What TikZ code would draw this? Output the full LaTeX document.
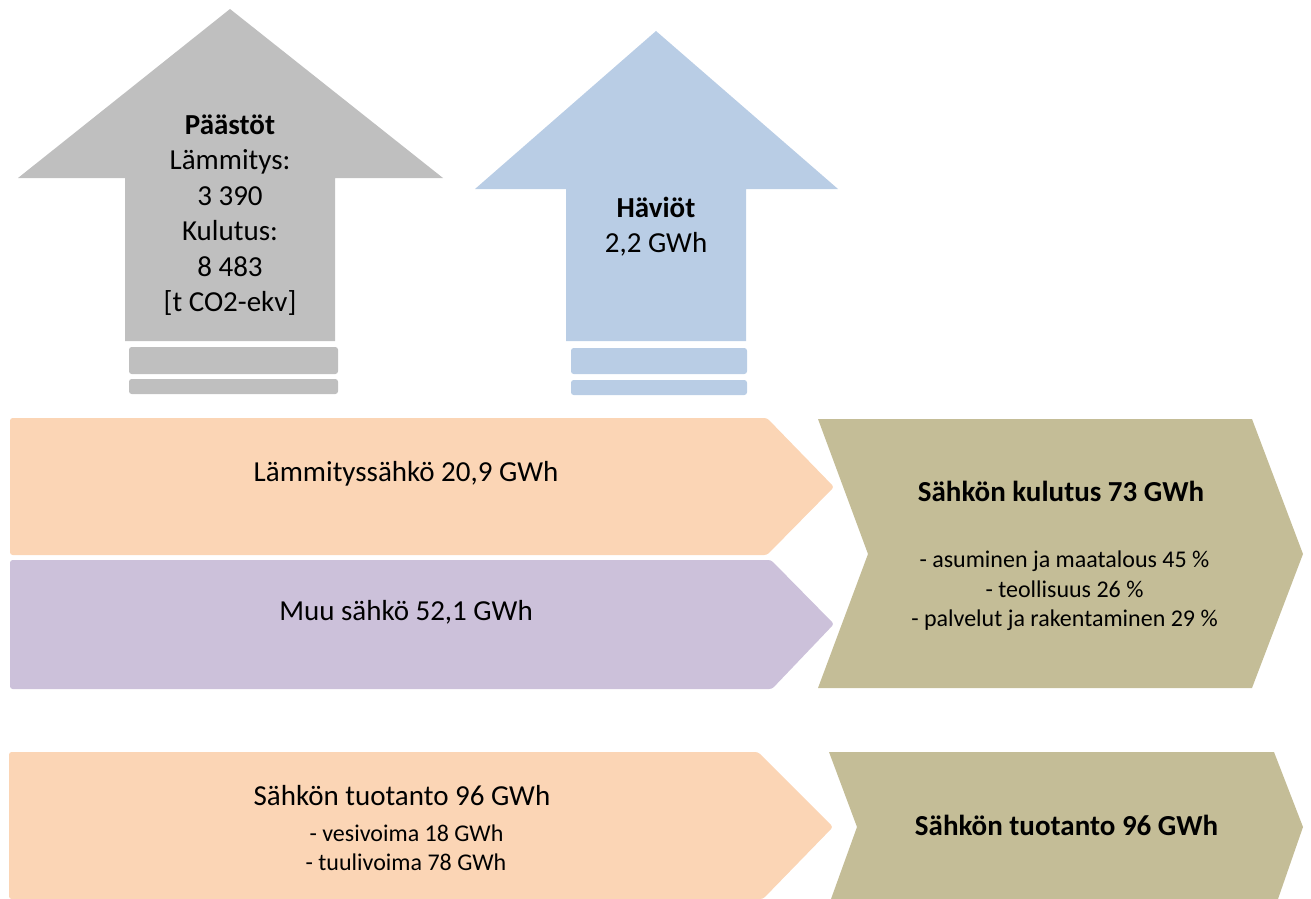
\documentclass[tikz,border=0pt]{standalone}
\usepackage{fontspec}
\setmainfont{Carlito}
\definecolor{grayA}{HTML}{BFBFBF}
\definecolor{blueA}{HTML}{B9CDE5}
\definecolor{peach}{HTML}{FBD5B5}
\definecolor{lilac}{HTML}{CCC1DA}
\definecolor{oliveA}{HTML}{C4BD97}
\begin{document}
\begin{tikzpicture}[x=0.75pt,y=-0.75pt,
  big/.style={font=\fontsize{21.75pt}{26pt}\selectfont, anchor=base, inner sep=0pt},
  small/.style={font=\fontsize{18pt}{21.75pt}\selectfont, anchor=base, inner sep=0pt},
  soft/.style={rounded corners=2pt}]
\useasboundingbox (0,0) rectangle (1311,899);

% grey up arrow (emissions)
\fill[grayA] (230,9) -- (443,178) -- (335,178) -- (335,341) -- (125,341) -- (125,178) -- (18,178) -- cycle;
\fill[grayA, soft] (129,347) rectangle (338,374);
\fill[grayA, soft] (129,379) rectangle (338,394);

% blue up arrow (losses)
\fill[blueA] (656,31) -- (838,189) -- (746,189) -- (746,341) -- (566,341) -- (566,189) -- (475,189) -- cycle;
\fill[blueA, soft] (571,348) rectangle (747,374);
\fill[blueA, soft] (571,380) rectangle (747,395);

% consumption row
\fill[peach, soft] (10,418) -- (767,418) -- (834,487) -- (767,555) -- (10,555) -- cycle;
\fill[lilac, soft] (10,560) -- (771,560) -- (834,624) -- (772,689) -- (10,689) -- cycle;
\fill[oliveA] (818,419) -- (1252,419) -- (1303,554) -- (1252,688) -- (818,688) -- (868,554) -- cycle;

% production row
\fill[peach, soft] (9,752) -- (758,752) -- (833,827) -- (763,899) -- (9,899) -- cycle;
\fill[oliveA] (829,752) -- (1274,752) -- (1303,827) -- (1278,899) -- (831,899) -- (857,827) -- cycle;

% texts: emissions
\node[big] (em1) at (230,134) {\textbf{Päästöt}};
\node[big] (em2) at (230,169.5) {Lämmitys:};
\node[big] (em3) at (230,205) {3 390};
\node[big] (em4) at (230,240.5) {Kulutus:};
\node[big] (em5) at (230,276) {8 483};
\node[big] (em6) at (230,311.5) {[t CO2-ekv]};

% texts: losses
\node[big] (lo1) at (656,217) {\textbf{Häviöt}};
\node[big] (lo2) at (656,252) {2,2 GWh};

% texts: consumption row
\node[big] (heat) at (406,481) {Lämmityssähkö 20,9 GWh};
\node[big] (other) at (406,620) {Muu sähkö 52,1 GWh};
\node[big] (cons) at (1061,501.5) {\textbf{Sähkön kulutus 73 GWh}};
\node[small] (c1) at (1064.5,567) {- asuminen ja maatalous 45 \%};
\node[small] (c2) at (1064.5,597) {- teollisuus 26 \%};
\node[small] (c3) at (1064.5,626) {- palvelut ja rakentaminen 29 \%};

% texts: production row
\node[big] (prod) at (402,805) {Sähkön tuotanto 96 GWh};
\node[small] (p1) at (406.5,841) {- vesivoima 18 GWh};
\node[small] (p2) at (406,870) {- tuulivoima 78 GWh};
\node[big] (prod2) at (1066.5,835.5) {\textbf{Sähkön tuotanto 96 GWh}};
\end{tikzpicture}
\end{document}
